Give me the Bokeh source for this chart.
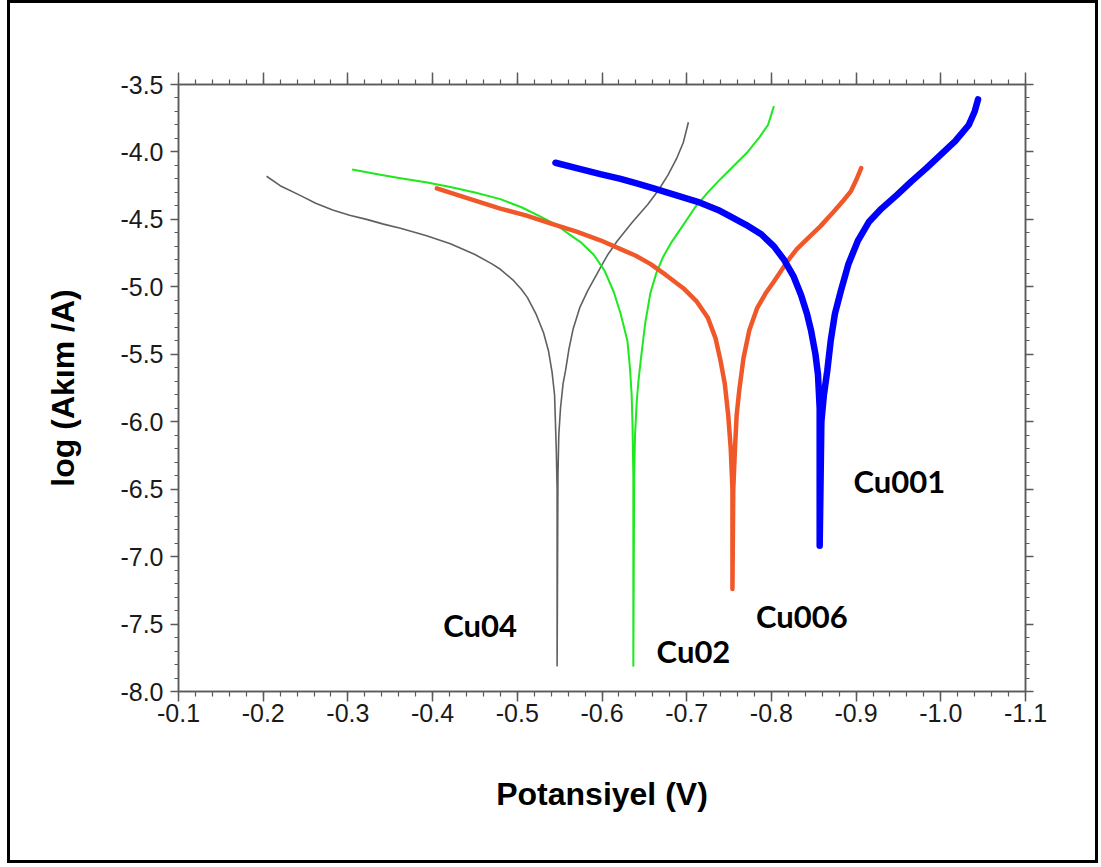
from bokeh.plotting import figure
from bokeh.models import Range1d, FixedTicker, PrintfTickFormatter, LinearAxis, Label
from bokeh.embed import file_html
from bokeh.resources import INLINE

# ---- data (potential in V, log current) ----
cu04_x = [-0.204, -0.220, -0.243, -0.262, -0.282, -0.302, -0.322, -0.342, -0.362, -0.392,
          -0.421, -0.450, -0.470, -0.480, -0.495, -0.505, -0.512, -0.522, -0.531, -0.537,
          -0.541, -0.544, -0.545, -0.546, -0.547, -0.547,
          -0.548, -0.549, -0.551, -0.554, -0.557, -0.561, -0.566, -0.574, -0.583, -0.598,
          -0.607, -0.618, -0.636, -0.654, -0.667, -0.678, -0.688, -0.696, -0.702]
cu04_y = [-4.18, -4.25, -4.32, -4.38, -4.43, -4.47, -4.50, -4.535, -4.565, -4.62,
          -4.68, -4.76, -4.83, -4.87, -4.95, -5.02, -5.08, -5.20, -5.34, -5.48,
          -5.63, -5.80, -6.00, -6.20, -6.50, -7.81,
          -6.40, -6.10, -5.90, -5.72, -5.62, -5.46, -5.31, -5.15, -5.03, -4.86,
          -4.76, -4.66, -4.52, -4.39, -4.28, -4.17, -4.05, -3.93, -3.78]

cu02_x = [-0.305, -0.335, -0.362, -0.392, -0.421, -0.450, -0.480, -0.505, -0.531, -0.546,
          -0.559, -0.575, -0.590, -0.603, -0.614, -0.622, -0.630, -0.633, -0.635, -0.636,
          -0.637, -0.637,
          -0.638, -0.639, -0.641, -0.643, -0.646, -0.651, -0.657, -0.664, -0.672, -0.682,
          -0.695, -0.710, -0.725, -0.740, -0.756, -0.772, -0.786, -0.796, -0.803]
cu02_y = [-4.13, -4.165, -4.195, -4.225, -4.26, -4.30, -4.35, -4.41, -4.49, -4.54,
          -4.60, -4.67, -4.76, -4.88, -5.04, -5.20, -5.40, -5.60, -5.80, -6.02,
          -6.40, -7.81,
          -6.40, -6.10, -5.85, -5.70, -5.53, -5.27, -5.05, -4.90, -4.78, -4.67,
          -4.55, -4.41, -4.30, -4.20, -4.10, -4.00, -3.89, -3.80, -3.66]

cu006_x = [-0.405, -0.440, -0.480, -0.510, -0.539, -0.570, -0.598, -0.622, -0.640, -0.657,
           -0.675, -0.696, -0.712, -0.725, -0.734, -0.740, -0.745, -0.749, -0.752, -0.754,
           -0.754,
           -0.755, -0.757, -0.759, -0.762, -0.767, -0.774, -0.783, -0.793, -0.803, -0.819,
           -0.830, -0.843, -0.858, -0.874, -0.885, -0.894, -0.900, -0.906]
cu006_y = [-4.27, -4.34, -4.42, -4.47, -4.53, -4.59, -4.655, -4.72, -4.77, -4.83,
           -4.91, -5.01, -5.11, -5.23, -5.38, -5.55, -5.72, -5.95, -6.20, -6.50,
           -7.24,
           -6.50, -6.20, -5.95, -5.77, -5.53, -5.32, -5.16, -5.05, -4.96, -4.81,
           -4.72, -4.64, -4.55, -4.44, -4.36, -4.29, -4.21, -4.12]

cu001_x = [-0.545, -0.570, -0.598, -0.622, -0.642, -0.661, -0.687, -0.713, -0.737, -0.752,
           -0.770, -0.788, -0.803, -0.815, -0.826, -0.835, -0.842, -0.847, -0.852, -0.855,
           -0.857, -0.857,
           -0.859, -0.862, -0.866, -0.870, -0.875, -0.882, -0.891, -0.902, -0.915, -0.930,
           -0.948, -0.965, -0.983, -1.000, -1.017, -1.033, -1.040, -1.044]
cu001_y = [-4.08, -4.12, -4.165, -4.20, -4.235, -4.27, -4.32, -4.37, -4.43, -4.48,
           -4.54, -4.61, -4.70, -4.80, -4.92, -5.06, -5.20, -5.33, -5.50, -5.65,
           -5.90, -6.92,
           -6.00, -5.80, -5.62, -5.40, -5.20, -5.03, -4.83, -4.66, -4.52, -4.42,
           -4.32, -4.22, -4.12, -4.02, -3.92, -3.80, -3.70, -3.61]

series_names = ["Cu04", "Cu02", "Cu006", "Cu001"]
label_x = [-0.456, -0.708, -0.836, -0.951]
label_y = [-7.51, -7.70, -7.44, -6.44]

x_ticks = [-0.1, -0.2, -0.3, -0.4, -0.5, -0.6, -0.7, -0.8, -0.9, -1.0, -1.1]
y_ticks = [-3.5, -4.0, -4.5, -5.0, -5.5, -6.0, -6.5, -7.0, -7.5, -8.0]
x_minor = [round(-0.1 - 0.02 * i, 2) for i in range(51)]
y_minor = [round(-3.5 - 0.1 * i, 1) for i in range(46)]

AX = "#5a5a5a"
TICK_FONT = "'Liberation Sans Narrow', 'Liberation Sans', Arial, sans-serif"

p = figure(width=1091, height=863, frame_width=847, frame_height=607,
           x_range=Range1d(-0.1, -1.1), y_range=Range1d(-8.0, -3.5),
           output_backend="svg", toolbar_location=None,
           min_border_left=168, min_border_right=70, min_border_top=81, min_border_bottom=169,
           x_axis_label="Potansiyel (V)", y_axis_label="log (Akım /A)")
p.xgrid.visible = False
p.ygrid.visible = False
p.outline_line_color = AX
p.outline_line_width = 1.5
p.background_fill_color = "white"
p.border_fill_color = "white"
p.styles = {"border": "3px solid black", "box-sizing": "border-box", "margin-left": "7px"}

def style_axis(ax, ticks, minor, labels=True):
    ax.ticker = FixedTicker(ticks=ticks, minor_ticks=minor)
    ax.formatter = PrintfTickFormatter(format="%.1f")
    ax.axis_line_color = AX
    ax.axis_line_width = 1.5
    ax.major_tick_line_color = AX
    ax.minor_tick_line_color = AX
    ax.major_tick_line_width = 1.5
    ax.minor_tick_line_width = 1.2
    ax.major_tick_in = 0
    ax.minor_tick_in = 0
    ax.major_label_text_font = TICK_FONT
    ax.major_label_text_font_size = "25px"
    ax.major_label_text_color = "#1a1a1a"
    ax.axis_label_text_font = "Liberation Sans"
    ax.axis_label_text_font_style = "bold"
    ax.axis_label_text_font_size = "32px"
    ax.axis_label_text_color = "black"
    if not labels:
        ax.major_label_overrides = {t: "" for t in ticks}
        ax.major_label_standoff = 0

xa = p.xaxis[0]
style_axis(xa, x_ticks, x_minor)
xa.major_tick_out = 10
xa.minor_tick_out = 5
xa.major_label_standoff = 2
xa.axis_label_standoff = 51

ya = p.yaxis[0]
style_axis(ya, y_ticks, y_minor)
ya.major_tick_out = 8
ya.minor_tick_out = 4
ya.major_label_standoff = 7
ya.axis_label_standoff = 36

top = LinearAxis()
style_axis(top, x_ticks, x_minor, labels=False)
top.major_tick_out = 12
top.minor_tick_out = 5
p.add_layout(top, "above")

right = LinearAxis()
style_axis(right, y_ticks, y_minor, labels=False)
right.major_tick_out = 8
right.minor_tick_out = 4
p.add_layout(right, "right")

p.line(cu04_x, cu04_y, line_color="#606060", line_width=1.6, line_join="round")
p.line(cu02_x, cu02_y, line_color="#1ee81e", line_width=2.0, line_join="round")
p.line(cu006_x, cu006_y, line_color="#f0582a", line_width=4.5, line_join="round", line_cap="round")
p.line(cu001_x, cu001_y, line_color="#0000ff", line_width=6.5, line_join="round", line_cap="round")

for name, lx, ly in zip(series_names, label_x, label_y):
    p.add_layout(Label(x=lx, y=ly, text=name, text_font="Lato", text_font_style="bold",
                       text_font_size="31px", text_color="black",
                       text_align="center", text_baseline="middle"))

open("out.html", "w").write(file_html(p, INLINE))
